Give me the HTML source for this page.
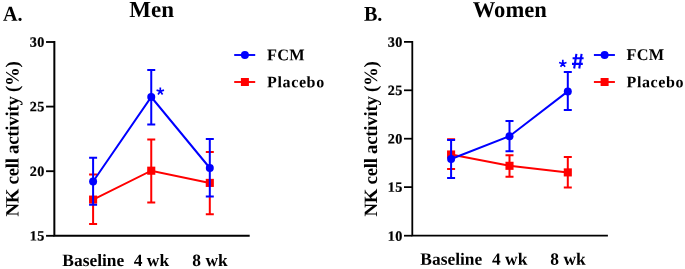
<!DOCTYPE html>
<html><head><meta charset="utf-8"><title>NK cell activity</title>
<style>
html,body{margin:0;padding:0;background:#fff;}
body{width:685px;height:269px;overflow:hidden;}
svg{display:block;will-change:transform;}
text{font-family:"Liberation Serif",serif;font-weight:bold;fill:#000;text-rendering:geometricPrecision;}
.tk{font-size:14.2px;stroke:#000;stroke-width:0.22px;letter-spacing:0.45px;}
.lg{font-size:16.3px;letter-spacing:0.25px;}
.lp{font-size:16.0px;letter-spacing:0.62px;}
.pl{font-size:21.1px;}
.tt{font-size:23px;}
.tw{font-size:22.6px;}
.xl{font-size:17.3px;}
.yl{font-size:18.8px;letter-spacing:-0.25px;}
.an{font-family:"Liberation Sans",sans-serif;font-size:19px;fill:#0000ff;}
</style></head><body>
<svg width="685" height="269" viewBox="0 0 685 269">
<rect width="685" height="269" fill="#fff"/>
<path d="M54.35,41V235.8H249.7" fill="none" stroke="#000" stroke-width="2"/>
<path d="M46.05,42H54.35" stroke="#000" stroke-width="1.85"/>
<text transform="translate(44.85,46.75) rotate(0.03)" text-anchor="end" class="tk">30</text>
<path d="M46.05,106.6H54.35" stroke="#000" stroke-width="1.85"/>
<text transform="translate(44.85,111.35) rotate(0.03)" text-anchor="end" class="tk">25</text>
<path d="M46.05,171.2H54.35" stroke="#000" stroke-width="1.85"/>
<text transform="translate(44.85,175.95) rotate(0.03)" text-anchor="end" class="tk">20</text>
<path d="M46.05,235.8H54.35" stroke="#000" stroke-width="1.85"/>
<text transform="translate(44.85,240.55) rotate(0.03)" text-anchor="end" class="tk">15</text>
<path d="M93.10,199.60 L151.25,170.70 L209.80,182.90" fill="none" stroke="#ff0000" stroke-width="2.0"/>
<path d="M93.10,204.25V223.90M89.10,174.50H97.10M89.10,223.90H97.10" fill="none" stroke="#ff0000" stroke-width="2.0"/>
<rect x="89.05" y="195.55" width="8.1" height="8.1" fill="#ff0000"/>
<path d="M151.25,139.40V202.50M147.25,139.40H155.25M147.25,202.50H155.25" fill="none" stroke="#ff0000" stroke-width="2.0"/>
<rect x="147.20" y="166.65" width="8.1" height="8.1" fill="#ff0000"/>
<path d="M209.80,196.10V214.30M205.80,152.00H213.80M205.80,214.30H213.80" fill="none" stroke="#ff0000" stroke-width="2.0"/>
<rect x="205.75" y="178.85" width="8.1" height="8.1" fill="#ff0000"/>
<path d="M93.10,181.50 L151.25,97.00 L209.80,168.00" fill="none" stroke="#0000ff" stroke-width="2.0"/>
<path d="M93.10,157.80V204.75M89.10,157.80H97.10M89.10,204.75H97.10" fill="none" stroke="#0000ff" stroke-width="2.0"/>
<circle cx="93.10" cy="181.50" r="4.0" fill="#0000ff"/>
<path d="M151.25,69.90V124.40M147.25,69.90H155.25M147.25,124.40H155.25" fill="none" stroke="#0000ff" stroke-width="2.0"/>
<circle cx="151.25" cy="97.00" r="4.0" fill="#0000ff"/>
<path d="M209.80,139.10V196.60M205.80,139.10H213.80M205.80,196.60H213.80" fill="none" stroke="#0000ff" stroke-width="2.0"/>
<circle cx="209.80" cy="168.00" r="4.0" fill="#0000ff"/>
<path d="M412.3,40.9V235.7H607.9" fill="none" stroke="#000" stroke-width="1.8"/>
<path d="M404.0,41.9H412.3" stroke="#000" stroke-width="1.75"/>
<text transform="translate(402.90,46.65) rotate(0.03)" text-anchor="end" class="tk">30</text>
<path d="M404.0,90.3H412.3" stroke="#000" stroke-width="1.75"/>
<text transform="translate(402.90,95.05) rotate(0.03)" text-anchor="end" class="tk">25</text>
<path d="M404.0,138.7H412.3" stroke="#000" stroke-width="1.75"/>
<text transform="translate(402.90,143.45) rotate(0.03)" text-anchor="end" class="tk">20</text>
<path d="M404.0,187.1H412.3" stroke="#000" stroke-width="1.75"/>
<text transform="translate(402.90,191.85) rotate(0.03)" text-anchor="end" class="tk">15</text>
<path d="M404.0,235.7H412.3" stroke="#000" stroke-width="1.75"/>
<text transform="translate(402.90,240.65) rotate(0.03)" text-anchor="end" class="tk">10</text>
<path d="M451.10,154.50 L509.50,165.80 L567.80,172.40" fill="none" stroke="#ff0000" stroke-width="2.0"/>
<path d="M451.10,139.30V140.40M447.10,139.30H455.10M447.10,169.05H455.10" fill="none" stroke="#ff0000" stroke-width="2.0"/>
<rect x="447.05" y="150.45" width="8.1" height="8.1" fill="#ff0000"/>
<path d="M509.50,155.20V176.70M505.50,155.20H513.50M505.50,176.70H513.50" fill="none" stroke="#ff0000" stroke-width="2.0"/>
<rect x="505.45" y="161.75" width="8.1" height="8.1" fill="#ff0000"/>
<path d="M567.80,157.00V187.60M563.80,157.00H571.80M563.80,187.60H571.80" fill="none" stroke="#ff0000" stroke-width="2.0"/>
<rect x="563.75" y="168.35" width="8.1" height="8.1" fill="#ff0000"/>
<path d="M451.10,159.00 L509.50,136.20 L567.80,91.40" fill="none" stroke="#0000ff" stroke-width="2.0"/>
<path d="M451.10,139.90V178.00M447.10,139.90H455.10M447.10,178.00H455.10" fill="none" stroke="#0000ff" stroke-width="2.0"/>
<circle cx="451.10" cy="159.00" r="4.0" fill="#0000ff"/>
<path d="M509.50,121.00V151.15M505.50,121.00H513.50M505.50,151.15H513.50" fill="none" stroke="#0000ff" stroke-width="2.0"/>
<circle cx="509.50" cy="136.20" r="4.0" fill="#0000ff"/>
<path d="M567.80,71.90V110.10M563.80,71.90H571.80M563.80,110.10H571.80" fill="none" stroke="#0000ff" stroke-width="2.0"/>
<circle cx="567.80" cy="91.40" r="4.0" fill="#0000ff"/>
<path d="M234.2,55.0H255.2" stroke="#0000ff" stroke-width="1.9"/><circle cx="244.89999999999998" cy="55.0" r="4.0" fill="#0000ff"/>
<path d="M234.2,82.0H255.2" stroke="#ff0000" stroke-width="1.9"/><rect x="240.90" y="78.0" width="8.0" height="8.0" fill="#ff0000"/>
<text transform="translate(267.1,60.25) rotate(0.03)" class="lg">FCM</text>
<text transform="translate(267.1,87.2) rotate(0.03)" class="lg lp">Placebo</text>
<path d="M593.9,55.0H614.9" stroke="#0000ff" stroke-width="1.9"/><circle cx="604.6" cy="55.0" r="4.0" fill="#0000ff"/>
<path d="M593.9,82.0H614.9" stroke="#ff0000" stroke-width="1.9"/><rect x="600.60" y="78.0" width="8.0" height="8.0" fill="#ff0000"/>
<text transform="translate(626.5,59.9) rotate(0.03)" class="lg">FCM</text>
<text transform="translate(626.5,87.15) rotate(0.03)" class="lg lp">Placebo</text>
<text transform="translate(3,20.8) rotate(0.03) scale(0.955,1)" class="pl">A.</text>
<text transform="translate(363.9,20.8) rotate(0.03) scale(0.955,1)" class="pl">B.</text>
<text transform="translate(151.6,17.1) rotate(0.03)" text-anchor="middle" class="tt">Men</text>
<text transform="translate(509.8,17.1) rotate(0.03)" text-anchor="middle" class="tt tw">Women</text>
<text transform="translate(93.30,265.9) rotate(0.03) scale(1.008,1)" text-anchor="middle" class="xl">Baseline</text>
<text transform="translate(151.45,265.9) rotate(0.03) scale(1.008,1)" text-anchor="middle" class="xl">4 wk</text>
<text transform="translate(210.00,265.9) rotate(0.03) scale(1.008,1)" text-anchor="middle" class="xl">8 wk</text>
<text transform="translate(451.30,264.8) rotate(0.03) scale(1.008,1)" text-anchor="middle" class="xl">Baseline</text>
<text transform="translate(509.70,264.8) rotate(0.03) scale(1.008,1)" text-anchor="middle" class="xl">4 wk</text>
<text transform="translate(568.00,264.8) rotate(0.03) scale(1.008,1)" text-anchor="middle" class="xl">8 wk</text>
<text transform="translate(18.5,216.55) rotate(-89.97)" class="yl">NK cell activity (%)</text>
<text transform="translate(376.9,216.55) rotate(-89.97)" class="yl">NK cell activity (%)</text>
<path d="M160.30,91.30L160.30,87.40M160.30,91.30L164.01,90.09M160.30,91.30L162.59,94.46M160.30,91.30L158.01,94.46M160.30,91.30L156.59,90.09" stroke="#0000ff" stroke-width="1.7" fill="none"/>
<path d="M562.80,63.70L562.80,59.80M562.80,63.70L566.51,62.49M562.80,63.70L565.09,66.86M562.80,63.70L560.51,66.86M562.80,63.70L559.09,62.49" stroke="#0000ff" stroke-width="1.7" fill="none"/>
<path d="M576.4,53.9L574.15,68.5M581.6,53.9L579.25,68.5M572.6,58.2H583.6M572,63.9H582.8" stroke="#0000ff" stroke-width="2.1" fill="none"/>
</svg>
</body></html>
